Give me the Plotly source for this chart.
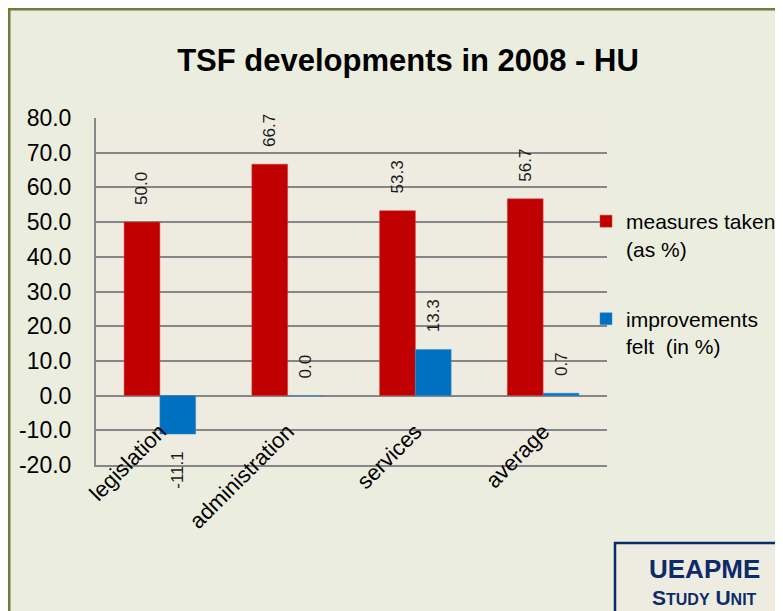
import plotly.graph_objects as go

categories = ["legislation", "administration", "services", "average"]
measures_taken = [50.0, 66.7, 53.3, 56.7]
improvements_felt = [-11.1, 0.0, 13.3, 0.7]
series_names = ["measures taken<br>(as %)", "improvements<br>felt  (in %)"]
y_ticks = [80, 70, 60, 50, 40, 30, 20, 10, 0, -10, -20]

OFF = 8  # default page body margin
W, H = 783 - OFF, 611 - OFF
# plot area in page pixels
L, R, T, B = 96, 607, 118, 465
Lf, Rf, Tf, Bf = L - OFF, R - OFF, T - OFF, B - OFF


def px(x):
    return (x - OFF - Lf) / (Rf - Lf)


def py(y):
    return (Bf - (y - OFF)) / (Bf - Tf)


def cx(x):
    return (x - OFF) / W


def cy(y):
    return 1 - (y - OFF) / H


FONT = "Liberation Sans, Arial, sans-serif"
NB = "\u00a0"


def labels(vals):
    out = []
    for v in vals:
        s = f"{v:.1f}"
        out.append(s + NB * 3 if v < 0 else NB * 3 + s)
    return out


fig = go.Figure()
fig.add_trace(go.Bar(
    x=categories, y=measures_taken, name=series_names[0],
    marker=dict(color="#C00000", line=dict(color="#D04040", width=0.5)),
    text=labels(measures_taken), texttemplate="%{text}", textposition="outside", textangle=-90,
    textfont=dict(size=17, color="#1a1a1a"), cliponaxis=False, constraintext="none",
    legendgroup="a",
))
fig.add_trace(go.Bar(
    x=categories, y=improvements_felt, name=series_names[1],
    marker=dict(color="#0070C0", line=dict(color="#3090D0", width=0.5)),
    text=labels(improvements_felt), texttemplate="%{text}", textposition="outside", textangle=-90,
    textfont=dict(size=17, color="#1a1a1a"), cliponaxis=False, constraintext="none",
    legendgroup="b",
))

shapes = [
    dict(type="rect", xref="paper", yref="paper", x0=px(9), x1=px(800), y0=py(9), y1=py(640),
         fillcolor="#EBEEDF", line=dict(color="#6B7F3A", width=3), layer="below"),
    dict(type="rect", xref="paper", yref="paper", x0=0, x1=1, y0=0, y1=1,
         fillcolor="#EEECE1", line=dict(width=0), layer="below"),
    dict(type="rect", xref="paper", yref="paper", x0=px(615), x1=px(800), y0=py(543), y1=py(650),
         fillcolor="#EEECE1", line=dict(color="#0D2A6B", width=2.5), layer="above"),
]

annotations = [
    dict(text="<b>UEAPME</b>", xref="paper", yref="paper", x=px(704), y=py(569),
         showarrow=False, font=dict(family=FONT, size=26, color="#0D2A6B"),
         xanchor="center", yanchor="middle"),
    dict(text="<b>S<span style='font-size:16px'>TUDY</span> U<span style='font-size:16px'>NIT</span></b>",
         xref="paper", yref="paper", x=px(704), y=py(597),
         showarrow=False, font=dict(family=FONT, size=21, color="#0D2A6B"),
         xanchor="center", yanchor="middle"),
]

fig.update_layout(
    width=W, height=H,
    margin=dict(l=Lf, r=W - Rf, t=Tf, b=H - Bf, pad=0, autoexpand=False),
    paper_bgcolor="#FFFFF0",
    plot_bgcolor="rgba(0,0,0,0)",
    font=dict(family=FONT, size=18, color="#000000"),
    title=dict(text="<b>TSF developments in 2008 - HU</b>", xref="paper", x=px(408), xanchor="center",
               y=1 - (60 - OFF) / H, yanchor="middle",
               font=dict(family=FONT, size=31, color="#000000")),
    barmode="group", bargap=0.44, bargroupgap=0,
    xaxis=dict(tickangle=-45, showgrid=False, showline=True, linecolor="#868686", linewidth=2,
               ticks="", tickfont=dict(size=22), ticklabelstandoff=-57),
    yaxis=dict(range=[-20, 80], tickvals=y_ticks, ticktext=[f"{v:.1f}" for v in y_ticks],
               showgrid=True, gridcolor="#868686", gridwidth=2, zeroline=False, showline=True,
               linecolor="#868686", linewidth=2, ticks="", tickfont=dict(size=23),
               ticklabelstandoff=18),
    legend=dict(xref="container", yref="container", x=cx(586), y=cy(201),
                xanchor="left", yanchor="top", bgcolor="rgba(0,0,0,0)", valign="top",
                font=dict(size=21), tracegroupgap=40, itemwidth=30),
    shapes=shapes,
    annotations=annotations,
    showlegend=True,
)

fig.write_html("out.html")
